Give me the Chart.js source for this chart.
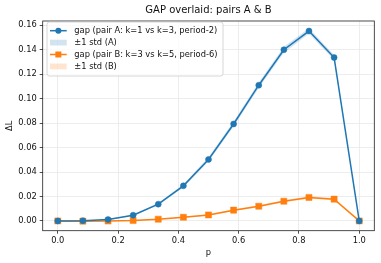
<!DOCTYPE html>
<html>
<head>
<meta charset="utf-8">
<script src="https://cdn.jsdelivr.net/npm/chart.js@4"></script>
<style>
  html, body { margin: 0; padding: 0; background: #fff; }
</style>
</head>
<body>
<canvas id="chart" width="381" height="263"></canvas>
<script>
// values
const pValues = [0, 0.0833, 0.1667, 0.25, 0.3333, 0.4167, 0.5, 0.5833, 0.6667, 0.75, 0.8333, 0.9167, 1.0];
const gapA = [0, 0.0002, 0.0011, 0.0047, 0.0137, 0.0287, 0.0503, 0.0793, 0.111, 0.140, 0.1553, 0.1336, 0];
const stdA = [0, 0.0001, 0.0003, 0.0006, 0.0009, 0.0013, 0.0017, 0.002, 0.0022, 0.0024, 0.0022, 0.002, 0];
const gapB = [0, -0.0002, -0.0001, 0.0003, 0.0014, 0.003, 0.0049, 0.0088, 0.012, 0.0161, 0.0192, 0.0178, 0];
const stdB = [0, 0.0001, 0.0001, 0.0002, 0.0003, 0.0004, 0.0006, 0.0007, 0.0008, 0.0009, 0.001, 0.0009, 0];
const xTicks = [0, 0.2, 0.4, 0.6, 0.8, 1.0];
const yTicks = [0, 0.02, 0.04, 0.06, 0.08, 0.10, 0.12, 0.14, 0.16];
const chartTitle = "GAP overlaid: pairs A & B";
const legendLabels = [
  "gap (pair A: k=1 vs k=3, period-2)",
  "±1 std (A)",
  "gap (pair B: k=3 vs k=5, period-6)",
  "±1 std (B)"
];

const blue = "#1f77b4";
const orange = "#ff7f0e";
const blueBand = "rgba(31, 119, 180, 0.2)";
const orangeBand = "rgba(255, 127, 14, 0.2)";
const font = "DejaVu Sans";
const textColor = "#111";

function pts(ys, sign, sd) {
  return pValues.map((x, i) => ({ x: x, y: ys[i] + (sd ? sign * sd[i] : 0) }));
}

// box round the axes, title over the axes, legend - drawn by hand like matplotlib does
const framePlugin = {
  id: "frame",
  afterDatasetsDraw(chart) {
    const { ctx, chartArea: a } = chart;
    ctx.save();
    ctx.strokeStyle = "#222";
    ctx.lineWidth = 0.8;
    ctx.strokeRect(a.left, a.top, a.right - a.left, a.bottom - a.top);
    ctx.restore();
  },
  afterDraw(chart) {
    const { ctx, chartArea: a } = chart;
    ctx.save();
    ctx.fillStyle = textColor;
    ctx.font = "10px '" + font + "'";
    ctx.textAlign = "center";
    ctx.textBaseline = "middle";
    ctx.fillText(chartTitle, (a.left + a.right) / 2, 10.5);

    const bx = 47, by = 22, bw = 176, bh = 54;
    ctx.beginPath();
    ctx.roundRect(bx, by, bw, bh, 2.5);
    ctx.fillStyle = "rgba(255,255,255,0.8)";
    ctx.fill();
    ctx.strokeStyle = "#cccccc";
    ctx.lineWidth = 0.8;
    ctx.stroke();

    const rows = [30.7, 42.6, 54.5, 66.4];
    const hx = 50, hw = 16.7;
    rows.forEach((ry, i) => {
      if (i === 0 || i === 2) {
        const c = i === 0 ? blue : orange;
        ctx.strokeStyle = c;
        ctx.lineWidth = 1.5;
        ctx.beginPath();
        ctx.moveTo(hx, ry);
        ctx.lineTo(hx + hw, ry);
        ctx.stroke();
        ctx.fillStyle = c;
        ctx.beginPath();
        if (i === 0) {
          ctx.arc(hx + hw / 2, ry, 3, 0, Math.PI * 2);
        } else {
          ctx.rect(hx + hw / 2 - 3, ry - 3, 6, 6);
        }
        ctx.fill();
      } else {
        ctx.fillStyle = i === 1 ? blueBand : orangeBand;
        ctx.fillRect(hx, ry - 2.9, hw, 5.8);
      }
      ctx.fillStyle = textColor;
      ctx.font = "8.3px '" + font + "'";
      ctx.textBaseline = "middle";
      ctx.textAlign = "left";
      ctx.fillText(legendLabels[i], 74.3, ry);
    });
    ctx.restore();
  }
};

const bandStyle = {
  pointRadius: 0,
  borderWidth: 0,
  tension: 0
};

new Chart(document.getElementById("chart"), {
  type: "line",
  data: {
    datasets: [
      {
        data: pts(gapA),
        borderColor: blue,
        backgroundColor: blue,
        borderWidth: 1.5,
        pointRadius: 3,
        pointStyle: "circle",
        pointBorderWidth: 0.5
      },
      {
        data: pts(gapB),
        borderColor: orange,
        backgroundColor: orange,
        borderWidth: 1.5,
        pointRadius: 4.3,
        pointStyle: "rect",
        pointBorderWidth: 0.5
      },
      Object.assign({ data: pts(gapA, -1, stdA), backgroundColor: blueBand, fill: false }, bandStyle),
      Object.assign({ data: pts(gapA, 1, stdA), backgroundColor: blueBand, fill: "-1" }, bandStyle),
      Object.assign({ data: pts(gapB, -1, stdB), backgroundColor: orangeBand, fill: false }, bandStyle),
      Object.assign({ data: pts(gapB, 1, stdB), backgroundColor: orangeBand, fill: "-1" }, bandStyle)
    ]
  },
  options: {
    responsive: false,
    animation: false,
    devicePixelRatio: 1,
    layout: { padding: { left: 0, right: 6.7, top: 21, bottom: 0 } },
    plugins: {
      legend: { display: false },
      tooltip: { enabled: false },
      title: { display: false }
    },
    scales: {
      x: {
        type: "linear",
        min: -0.05,
        max: 1.05,
        afterBuildTicks: (s) => { s.ticks = xTicks.map((v) => ({ value: v })); },
        afterFit: (s) => { s.height = 32.3; },
        ticks: {
          color: textColor,
          font: { family: font, size: 8.3 },
          padding: 2,
          maxRotation: 0,
          callback: (v) => v.toFixed(1)
        },
        grid: { color: "#e8e8e8", lineWidth: 0.8, tickColor: "#222", tickLength: 3 },
        border: { display: false },
        title: {
          display: true,
          text: "p",
          color: textColor,
          font: { family: font, size: 8.3 },
          padding: { top: 0, bottom: 5 }
        }
      },
      y: {
        min: -0.008,
        max: 0.1635,
        afterBuildTicks: (s) => { s.ticks = yTicks.map((v) => ({ value: v })); },
        afterFit: (s) => { s.width = 42.7; },
        ticks: {
          color: textColor,
          font: { family: font, size: 8.3 },
          padding: 3,
          callback: (v) => v.toFixed(2)
        },
        grid: { color: "#e8e8e8", lineWidth: 0.8, tickColor: "#222", tickLength: 3 },
        border: { display: false },
        title: {
          display: true,
          text: "ΔL",
          color: textColor,
          font: { family: font, size: 8.3 },
          padding: { top: 5, bottom: 0 }
        }
      }
    }
  },
  plugins: [framePlugin]
});
</script>
</body>
</html>
